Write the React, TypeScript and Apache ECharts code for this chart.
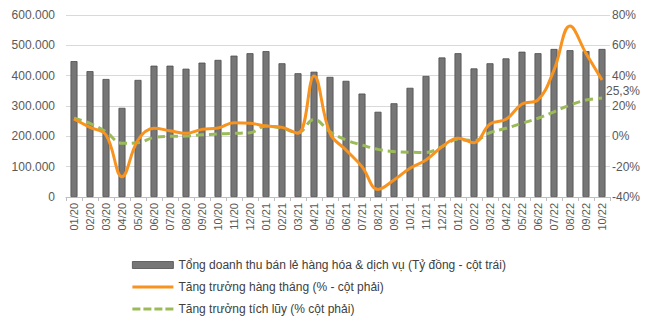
import React, { useEffect, useRef } from "react";
import * as echarts from "echarts";

// Monthly retail sales of goods & services (billion VND) with growth rates
const months = [
  "01/20", "02/20", "03/20", "04/20", "05/20", "06/20", "07/20", "08/20", "09/20", "10/20", "11/20", "12/20",
  "01/21", "02/21", "03/21", "04/21", "05/21", "06/21", "07/21", "08/21", "09/21", "10/21", "11/21", "12/21",
  "01/22", "02/22", "03/22", "04/22", "05/22", "06/22", "07/22", "08/22", "09/22", "10/22",
];

const revenue = [
  448000, 415000, 389000, 294000, 386000, 433000, 433000, 423000, 443000, 452000, 466000, 474000,
  481000, 441000, 408000, 413000, 396000, 383000, 341000, 281000, 309000, 360000, 399000, 460000,
  474000, 424000, 441000, 457000, 479000, 474000, 488000, 484000, 481000, 488000,
];

const monthlyGrowth = [
  11.4, 5.9, 0.9, -26.6, -2.4, 5.3, 3.7, 2.0, 4.6, 5.5, 9.0, 8.6,
  6.8, 5.9, 2.0, 39.7, 2.0, -9.0, -20.0, -35.0, -28.8, -21.0, -15.6, -6.8,
  -1.3, -4.2, 8.1, 11.2, 21.3, 24.0, 43.7, 72.7, 54.7, 37.1,
];

const cumulativeGrowth = [
  11.9, 8.6, 3.0, -4.6, -4.2, -0.7, 0.0, 0.2, 1.0, 1.5, 2.0, 2.4,
  6.8, 5.3, 2.4, 11.2, 3.0, -2.4, -5.7, -8.6, -10.0, -10.5, -10.6, -6.8,
  -2.0, -2.9, 2.4, 5.3, 8.6, 11.9, 16.2, 20.6, 23.9, 25.3,
];

const leftTicks = { min: 0, max: 600000, interval: 100000 };
const rightTicks = { min: -40, max: 80, interval: 20 };

const seriesNames = [
  "Tổng doanh thu bán lẻ hàng hóa & dịch vụ (Tỷ đồng - cột trái)",
  "Tăng trưởng hàng tháng (% - cột phải)",
  "Tăng trưởng tích lũy (% cột phải)",
];

const FONT = "'Liberation Sans', Arial, sans-serif";

// Legend glyphs: a flat stroke and a dashed stroke, drawn as filled paths
const SOLID_ICON = "path://M0,0h41v3h-41z";
const DASH_ICON = "path://M0,0h8v3h-8z M11,0h8v3h-8z M22,0h8v3h-8z M33,0h8v3h-8z";

function formatThousands(v: number): string {
  return String(v).replace(/\B(?=(\d{3})+(?!\d))/g, ".");
}

function formatPercent(v: number): string {
  return String(v).replace(".", ",") + "%";
}

export default function App() {
  const ref = useRef<HTMLDivElement>(null);

  useEffect(() => {
    if (!ref.current) return;
    const chart = echarts.init(ref.current, null, { renderer: "svg" });

    const lastValue = cumulativeGrowth[cumulativeGrowth.length - 1];

    chart.setOption({
      animation: false,
      textStyle: { fontFamily: FONT },
      grid: { left: 66, right: 37, top: 15, bottom: 125, containLabel: false },
      legend: {
        orient: "vertical",
        left: 127,
        top: 254,
        itemWidth: 41,
        itemHeight: 7,
        itemGap: 10,
        symbolKeepAspect: true,
        textStyle: { fontSize: 12, color: "#404040", fontFamily: FONT },
        data: [
          {
            name: seriesNames[0],
            icon: "rect",
            itemStyle: { color: "#767676", borderColor: "#4d4d4d", borderWidth: 0.8 },
          },
          { name: seriesNames[1], icon: SOLID_ICON, itemStyle: { color: "#f7931e", borderWidth: 0 } },
          { name: seriesNames[2], icon: DASH_ICON, itemStyle: { color: "#9bbb59", borderWidth: 0 } },
        ],
      },
      xAxis: {
        type: "category",
        data: months,
        boundaryGap: true,
        axisLine: { lineStyle: { color: "#bfbfbf", width: 1 } },
        axisTick: { show: true, length: 4, lineStyle: { color: "#bfbfbf" } },
        axisLabel: {
          rotate: 90,
          interval: 0,
          fontSize: 11,
          color: "#595959",
          margin: 6,
          fontFamily: FONT,
        },
      },
      yAxis: [
        {
          type: "value",
          min: leftTicks.min,
          max: leftTicks.max,
          interval: leftTicks.interval,
          axisLine: { show: false },
          axisTick: { show: false },
          splitLine: { lineStyle: { color: "#d9d9d9", width: 1 } },
          axisLabel: {
            fontSize: 12,
            color: "#595959",
            margin: 11,
            fontFamily: FONT,
            formatter: (v: number) => formatThousands(v),
          },
        },
        {
          type: "value",
          min: rightTicks.min,
          max: rightTicks.max,
          interval: rightTicks.interval,
          axisLine: { show: false },
          axisTick: { show: false },
          splitLine: { show: false },
          axisLabel: {
            fontSize: 12,
            color: "#595959",
            margin: 2,
            fontFamily: FONT,
            formatter: (v: number) => v + "%",
          },
        },
      ],
      series: [
        {
          name: seriesNames[0],
          type: "bar",
          yAxisIndex: 0,
          data: revenue,
          barWidth: 7,
          itemStyle: { color: "#767676", borderColor: "#4d4d4d", borderWidth: 0.8 },
        },
        {
          name: seriesNames[1],
          type: "line",
          yAxisIndex: 1,
          data: monthlyGrowth,
          smooth: 0.4,
          symbol: "none",
          lineStyle: { color: "#f7931e", width: 3 },
          itemStyle: { color: "#f7931e" },
          z: 4,
        },
        {
          name: seriesNames[2],
          type: "line",
          yAxisIndex: 1,
          data: cumulativeGrowth,
          smooth: 0.4,
          symbol: "none",
          lineStyle: { color: "#9bbb59", width: 3, type: [8, 5] },
          itemStyle: { color: "#9bbb59" },
          endLabel: {
            show: true,
            distance: 4,
            offset: [0, -7],
            formatter: () => formatPercent(lastValue),
            color: "#595959",
            fontSize: 12,
            fontFamily: FONT,
          },
          z: 3,
        },
      ],
    });

    return () => chart.dispose();
  }, []);

  return (
    <div
      ref={ref}
      style={{ position: "fixed", left: 0, top: 0, width: 647, height: 322, background: "#ffffff" }}
    />
  );
}
